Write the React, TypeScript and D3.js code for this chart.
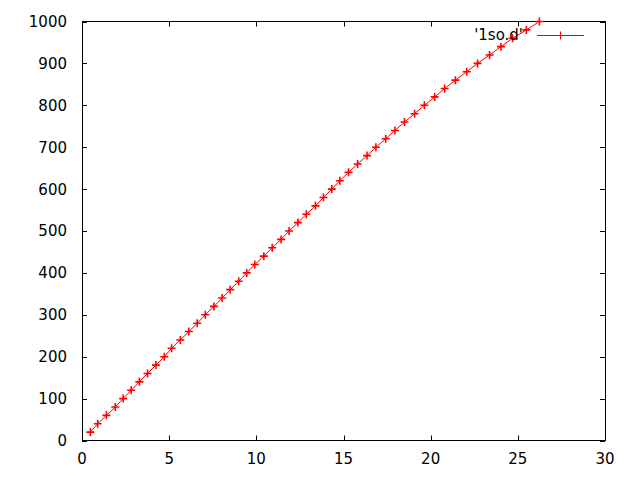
import React, { useRef, useEffect } from 'react';
import * as d3 from 'd3';

// values
const yValues = [20, 40, 60, 80, 100, 120, 140, 160, 180, 200,
    220, 240, 260, 280, 300, 320, 340, 360, 380, 400,
    420, 440, 460, 480, 500, 520, 540, 560, 580, 600,
    620, 640, 660, 680, 700, 720, 740, 760, 780, 800,
    820, 840, 860, 880, 900, 920, 940, 960, 980, 1000];
const xValues = [0.48, 0.90, 1.40, 1.91, 2.36, 2.82, 3.29, 3.76, 4.24, 4.72,
    5.14, 5.64, 6.13, 6.61, 7.07, 7.57, 8.04, 8.50, 8.99, 9.45,
    9.91, 10.43, 10.91, 11.42, 11.88, 12.39, 12.87, 13.39, 13.85, 14.33,
    14.79, 15.29, 15.81, 16.35, 16.86, 17.42, 17.95, 18.50, 19.08, 19.64,
    20.23, 20.80, 21.42, 22.07, 22.69, 23.38, 24.03, 24.70, 25.49, 26.24];
const xTicks = [0, 5, 10, 15, 20, 25, 30];
const yTicks = [0, 100, 200, 300, 400, 500, 600, 700, 800, 900, 1000];
const seriesName = "'1so.d'";

const App = () => {
    const ref = useRef(null);

    useEffect(() => {
        const svg = d3.select(ref.current);
        svg.selectAll('*').remove();

        const left = 82, right = 605, top = 21.5, bottom = 440.5;
        const font = 'DejaVu Sans, sans-serif';

        const x = d3.scaleLinear().domain([0, 30]).range([left, right]);
        const y = d3.scaleLinear().domain([0, 1000]).range([bottom, top]);

        svg.append('rect')
            .attr('width', 640).attr('height', 480).attr('fill', 'white');

        // frame
        svg.append('rect')
            .attr('x', left + 0.5).attr('y', top)
            .attr('width', right - left).attr('height', bottom - top)
            .attr('fill', 'none').attr('stroke', 'black').attr('stroke-width', 1);

        // ticks, mirrored on all sides
        const tl = 5;
        yTicks.forEach(t => {
            const yy = Math.round(y(t)) + 0.5;
            svg.append('line').attr('x1', left).attr('x2', left + tl)
                .attr('y1', yy).attr('y2', yy).attr('stroke', 'black');
            svg.append('line').attr('x1', right - tl).attr('x2', right)
                .attr('y1', yy).attr('y2', yy).attr('stroke', 'black');
            svg.append('text')
                .attr('x', left - 15).attr('y', y(t))
                .attr('dy', '0.36em')
                .attr('text-anchor', 'end')
                .style('font-family', font).style('font-size', '15px')
                .style('fill', '#000')
                .text(t);
        });
        xTicks.forEach(t => {
            const xx = Math.round(x(t)) + 0.5;
            svg.append('line').attr('x1', xx).attr('x2', xx)
                .attr('y1', bottom).attr('y2', bottom - tl).attr('stroke', 'black');
            svg.append('line').attr('x1', xx).attr('x2', xx)
                .attr('y1', top).attr('y2', top + tl).attr('stroke', 'black');
            svg.append('text')
                .attr('x', x(t)).attr('y', 464)
                .attr('text-anchor', 'middle')
                .style('font-family', font).style('font-size', '15px')
                .style('fill', '#000')
                .text(t);
        });

        const data = xValues.map((v, i) => ({ x: v, y: yValues[i] }));

        const line = d3.line()
            .x(d => x(d.x))
            .y(d => y(d.y));

        svg.append('path')
            .datum(data)
            .attr('d', line)
            .attr('fill', 'none')
            .attr('stroke', 'red')
            .attr('stroke-width', 1);

        const plus = (cx, cy, r, w) => {
            svg.append('path')
                .attr('d', `M${cx - r},${cy}H${cx + r}M${cx},${cy - r}V${cy + r}`)
                .attr('stroke', 'red').attr('stroke-width', w).attr('fill', 'none');
        };
        data.forEach(d => plus(x(d.x), y(d.y), 4, 1.6));

        // key
        svg.append('text')
            .attr('x', 523).attr('y', 35)
            .attr('dy', '0.36em')
            .attr('text-anchor', 'end')
            .style('font-family', font).style('font-size', '15px')
            .style('fill', '#000')
            .text(seriesName);
        svg.append('line')
            .attr('x1', 537).attr('x2', 584).attr('y1', 35.5).attr('y2', 35.5)
            .attr('stroke', 'red');
        plus(560.5, 35.5, 4, 1);

    }, []);

    return (
        <svg ref={ref} width={640} height={480}
            style={{ position: 'absolute', left: 0, top: 0, display: 'block' }} />
    );
};

export default App;
